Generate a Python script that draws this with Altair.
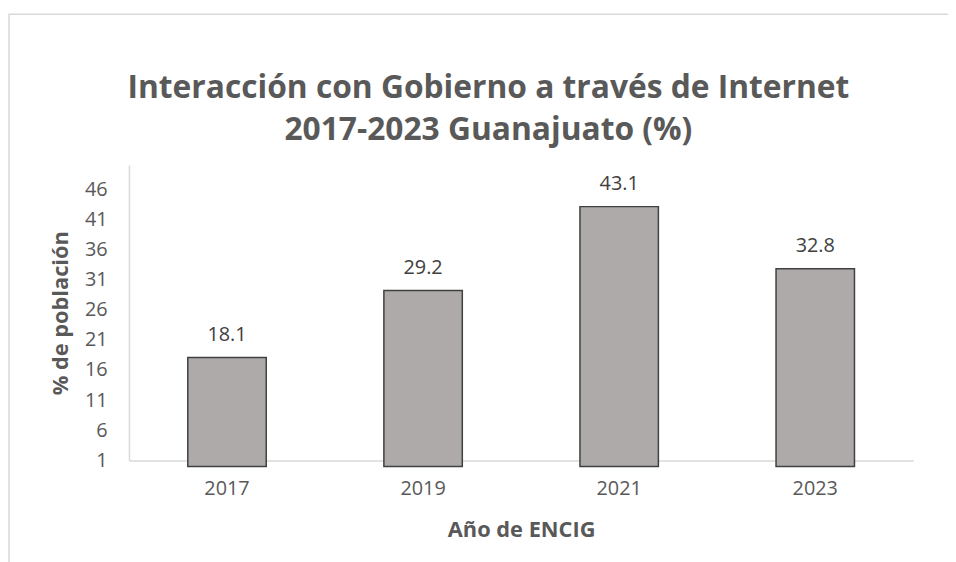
import altair as alt
import pandas as pd

years = ["2017", "2019", "2021", "2023"]
values = [18.1, 29.2, 43.1, 32.8]
y_ticks = [1, 6, 11, 16, 21, 26, 31, 36, 41, 46]

df = pd.DataFrame({"year": years, "value": values})

GRAY = "#595959"
FONT = "Open Sans"

base = alt.Chart(df)

x_enc = alt.X("year:N", sort=years,
              scale=alt.Scale(paddingInner=0.6, paddingOuter=0.3),
              axis=alt.Axis(title="Año de ENCIG", labelAngle=0, ticks=False,
                            domainColor="#d9d9d9", domainWidth=1.5,
                            labelPadding=18, labelFontSize=20, labelColor=GRAY, labelFont=FONT,
                            titleFontSize=22, titleFont=FONT, titleColor=GRAY,
                            titleFontWeight="bold", titlePadding=22))
y_enc = alt.Y("value:Q", scale=alt.Scale(domain=[1, 50], nice=False, zero=False),
              axis=alt.Axis(title="% de población", values=y_ticks, ticks=False, grid=False,
                            labelOverlap=False, labelBound=False, labelFlush=False,
                            domainColor="#d9d9d9", domainWidth=1.5,
                            labelPadding=22, labelFontSize=20, labelColor=GRAY, labelFont=FONT,
                            titleFontSize=22, titleFont=FONT, titleColor=GRAY,
                            titleFontWeight="bold", titlePadding=12))

bars = base.mark_bar(fill="#aeaaaa", stroke="#404040", strokeWidth=1.5).encode(
    x=x_enc, y=y_enc,
)

labels = base.mark_text(dy=-23, fontSize=20, font=FONT, color="#404040").encode(
    x=x_enc, y=y_enc,
    text=alt.Text("value:Q", format=".1f"),
)

frame = alt.Chart(pd.DataFrame({"a": [0]})).mark_rect(
    fill="white", fillOpacity=0, stroke="#d9d9d9", strokeWidth=1.5, clip=False
).encode(
    x=alt.value(-121), x2=alt.value(1000), y=alt.value(-152), y2=alt.value(600)
)

chart = alt.layer(frame, bars, labels).properties(
    width=791,
    height=298,
    title=alt.TitleParams(
        text=["Interacción con  Gobierno a través de Internet", "2017-2023 Guanajuato (%)"],
        fontSize=32, font=FONT, fontWeight="bold", color=GRAY,
        anchor="middle", lineHeight=43, offset=22, dy=157, dx=-33,
    ),
    autosize=alt.AutoSizeParams(type="none"),
    padding={"left": 122, "top": 156, "right": 35, "bottom": 100},
).configure(background="white").configure_view(stroke=None).configure_axis(labelOverlap=False)

chart.save("out.html", embed_options={"renderer": "svg", "actions": False})
